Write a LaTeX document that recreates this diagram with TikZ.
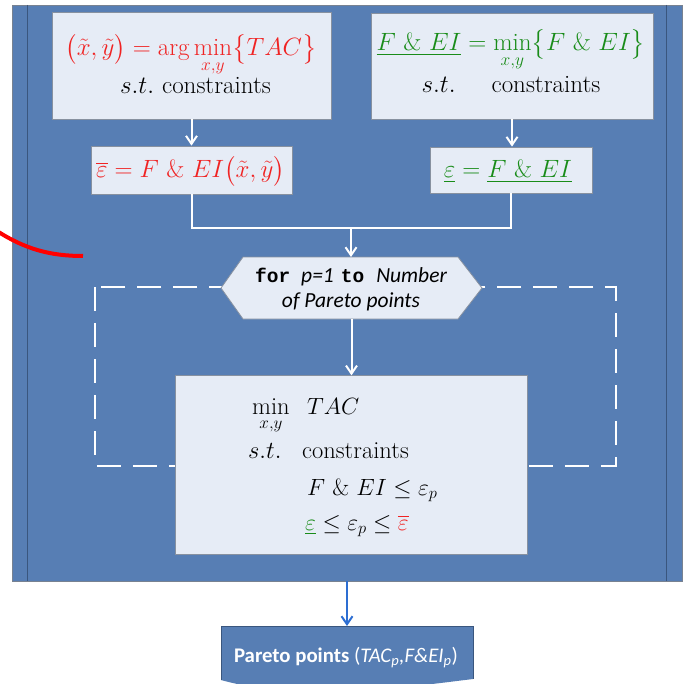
\RequirePackage{fix-cm}
\documentclass[tikz,border=0pt]{standalone}
\usepackage{amsmath}
\usepackage{fontspec}
\newfontfamily\calibri{Carlito}
\newfontfamily\cmono{Liberation Mono}
\usetikzlibrary{arrows.meta}
\definecolor{bgblue}{RGB}{87,126,180}
\definecolor{bgline}{RGB}{58,86,126}
\definecolor{bgedge}{RGB}{120,130,145}
\definecolor{boxfill}{RGB}{230,236,246}
\definecolor{boxline}{RGB}{135,145,160}
\definecolor{txtred}{RGB}{240,35,35}
\definecolor{txtgreen}{RGB}{25,140,25}
\definecolor{arrblue}{RGB}{45,110,210}
\tikzset{
  lightbox/.style={draw=boxline, fill=boxfill, line width=0.8pt, inner sep=0pt},
  ghost/.style={inner sep=0pt, outer sep=0pt},
  toptxt/.style={inner sep=0pt, font=\fontsize{25}{30}\selectfont},
  mathtxt/.style={inner sep=0pt, font=\fontsize{23.5}{28}\selectfont},
  rmtxt/.style={inner sep=0pt, font=\fontsize{24.5}{29}\selectfont},
  hextxt/.style={inner sep=0pt, font=\fontsize{21.5}{25}\selectfont},
  partxt/.style={inner sep=0pt, font=\fontsize{20.8}{25}\selectfont},
  wline/.style={draw=white, line width=2pt},
  warrow/.style={wline, -{Straight Barb[length=8pt,width=11pt,line width=2pt]}},
  barrow/.style={draw=arrblue, line width=2pt, -{Straight Barb[length=8pt,width=11pt,line width=2pt]}},
  wdash/.style={draw=white, line width=2pt, dash pattern=on 24pt off 12pt},
}
\newcommand{\monob}[1]{{\fontsize{19.5}{25}\selectfont\cmono\bfseries #1}}
\begin{document}
\begin{tikzpicture}[x=1pt,y=-1pt]
\clip (0,0) rectangle (683,684);
\fill[white] (0,0) rectangle (683,684);
% outer panel
\draw[draw=bgedge, fill=bgblue, line width=0.8pt] (12,5) rectangle (682,581);
\draw[bgline, line width=1pt] (27,5) -- (27,581);
\draw[bgline, line width=1pt] (666,5) -- (666,581);
% dashed loop
\draw[wdash] (95,287.3) rectangle (616,465.5);
% boxes
\node[lightbox, minimum width=279pt, minimum height=107pt] (box1) at (191.5,65.5) {};
\node[lightbox, minimum width=282pt, minimum height=106pt] (box2) at (512,66) {};
\node[lightbox, minimum width=201pt, minimum height=48pt] (box3) at (192,170) {};
\node[lightbox, minimum width=162pt, minimum height=46pt] (box4) at (511,170) {};
\node[lightbox, minimum width=352.7pt, minimum height=178.3pt] (main) at (351.4,464.9) {};
\node[ghost, minimum width=261pt, minimum height=62pt] (hex) at (351.5,288) {};
\draw[lightbox] (hex.west) -- ([xshift=22pt]hex.north west) -- ([xshift=-24pt]hex.north east)
  -- (hex.east) -- ([xshift=-24pt]hex.south east) -- ([xshift=22pt]hex.south west) -- cycle;
\node[ghost, minimum width=252pt, minimum height=54pt] (par) at (347,653) {};
\fill[bgblue] (par.north west) -- (par.north east) -- (473,679)
  .. controls (400,688) and (300,702) .. (221,680) -- cycle;
\draw[draw=bgline, line width=0.8pt] (221,680) -- (par.north west) -- (par.north east) -- (473,679);
% connectors
\coordinate (merge) at (351,227.7);
\coordinate (outbot) at (347,581);
\draw[warrow] (box1.south) -- (box1.south |- box3.north);
\draw[warrow] (box2.south) -- (box2.south |- box4.north);
\draw[wline] (box3.south) |- (merge) -| (box4.south);
\draw[warrow] (merge) -- (merge |- hex.north);
\draw[warrow] (hex.south) -- (hex.south |- main.north);
\draw[barrow] (outbot) -- (par.north -| outbot);
% texts
\node[toptxt, anchor=base] (t1a) at (191,56) {\color{txtred}$\displaystyle \bigl(\tilde{x},\tilde{y}\bigr)=\arg\min_{x,y}\bigl\{TAC\bigr\}$};
\node[toptxt, anchor=base] (t1b) at (195.5,93.5) {$s.t.$\hspace{8pt}constraints};
\node[toptxt, anchor=base] (t2a) at (511,51) {\color{txtgreen}$\displaystyle \underline{F\ \&\ EI}=\min_{x,y}\bigl\{F\ \&\ EI\bigr\}$};
\node[toptxt, anchor=base] (t2b) at (511,92.7) {$s.t.$\hspace{36pt}constraints};
\node[toptxt, anchor=base] (t3) at (190.5,178) {\color{txtred}$\overline{\varepsilon}=F\ \&\ EI\bigl(\tilde{x},\tilde{y}\bigr)$};
\node[toptxt, anchor=base] (t4) at (508,178) {\color{txtgreen}$\underline{\varepsilon}=\underline{F\ \&\ EI}$};
\node[hextxt, anchor=base] (h1) at (351,282) {\monob{for}\hspace{11pt}{\calibri\itshape p=1}\hspace{7pt}\monob{to}\hspace{12pt}{\calibri\itshape Number}};
\node[hextxt, anchor=base] (h2) at (351,307) {\calibri\itshape of Pareto points};
\node[rmtxt, anchor=base west] (m1) at (252,414) {$\displaystyle\min_{x,y}$};
\node[mathtxt, anchor=base west] (m2) at (307,414) {$TAC$};
\node[rmtxt, anchor=base west] (m3) at (248,458) {$s.t.$};
\node[rmtxt, anchor=base west] (m4) at (302,458) {constraints};
\node[mathtxt, anchor=base west] (m5) at (307,495) {$F\ \&\ EI\le\varepsilon_p$};
\node[mathtxt, anchor=base west] (m6) at (305,530) {$\textcolor{txtgreen}{\underline{\varepsilon}}\le\varepsilon_p\le\textcolor{txtred}{\overline{\varepsilon}}$};
\node[partxt, anchor=base, text=white] (pt) at (346,662) {\calibri{\bfseries Pareto points} (\textit{TAC\textsubscript{p},F\&EI\textsubscript{p}})};
% red arc
\draw[red, line width=4pt] (-3,231) .. controls (25,249) and (50,256) .. (83,256);
\end{tikzpicture}
\end{document}
